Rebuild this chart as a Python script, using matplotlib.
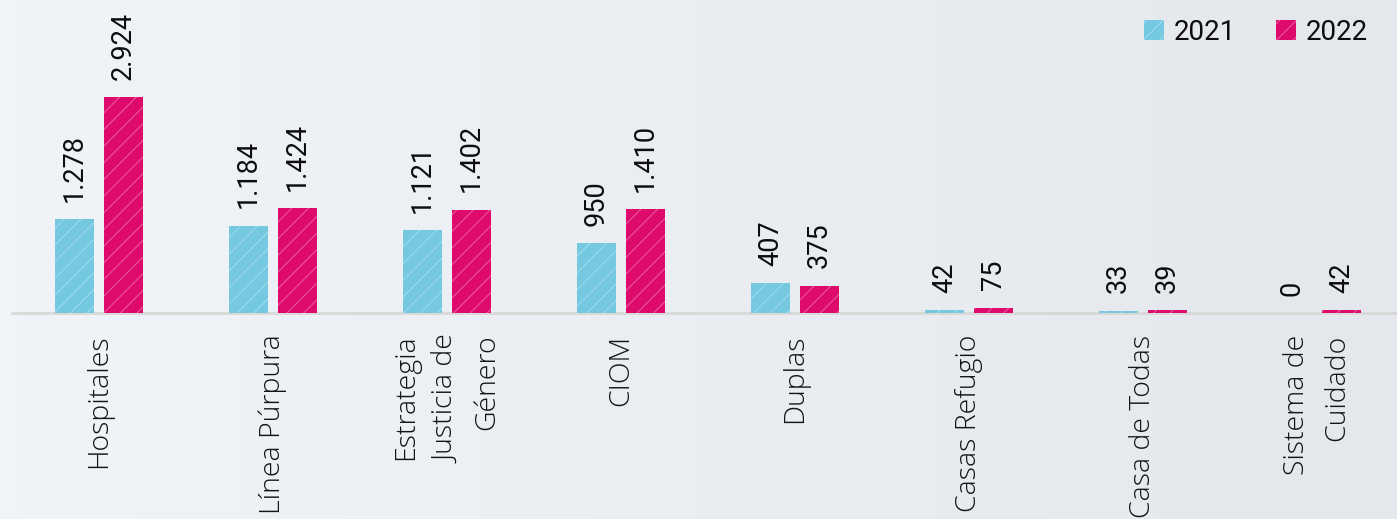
import numpy as np
import matplotlib
matplotlib.use("Agg")
import matplotlib.pyplot as plt

categories = ["Hospitales", "Línea Púrpura", "Estrategia\nJusticia de\nGénero", "CIOM",
              "Duplas", "Casas Refugio", "Casa de Todas", "Sistema de\nCuidado"]
years = ["2021", "2022"]
values_2021 = [1278, 1184, 1121, 950, 407, 42, 33, 0]
values_2022 = [2924, 1424, 1402, 1410, 375, 75, 39, 42]

c2021 = "#74c9e1"
c2022 = "#de0b6c"

plt.rcParams["hatch.linewidth"] = 0.7

fig = plt.figure(figsize=(13.97, 5.19), dpi=100)
fig.patch.set_facecolor("#eceff3")
ax = fig.add_axes([0, 0, 1, 1])
ax.set_facecolor("none")

# subtle background shading
grad = np.linspace(0, 1, 64)[None, :]
ax.imshow(grad, extent=[0, 1, 0, 1], transform=ax.transAxes, aspect="auto",
          cmap=matplotlib.colors.LinearSegmentedColormap.from_list("bg", ["#f0f3f7", "#e4e7eb"]),
          zorder=0)

x = np.arange(len(categories))
w = 0.224
off = 0.141
b1 = ax.bar(x - off, values_2021, w, color=c2021, edgecolor=(1, 1, 1, 0.35), linewidth=0,
            hatch="//", zorder=2, label=years[0])
b2 = ax.bar(x + off, values_2022, w, color=c2022, edgecolor=(1, 1, 1, 0.35), linewidth=0,
            hatch="//", zorder=2, label=years[1])

ax.set_xlim(-0.569, 7.46)
ax.set_ylim(-2785, 4241)
ax.axis("off")

ax.axhline(0, xmin=12 / 1397, xmax=1, color="#d8d8d8", linewidth=2, zorder=1)

def fmt(v):
    return f"{v:,}".replace(",", ".")

for bars, vals in ((b1, values_2021), (b2, values_2022)):
    for rect, v in zip(bars, vals):
        ax.annotate(fmt(v), (rect.get_x() + rect.get_width() / 2, v),
                    xytext=(0, 12.5), textcoords="offset points", rotation=90,
                    ha="center", va="bottom", fontsize=19.5, family="Roboto",
                    fontweight="normal", color="#0d0d0d", zorder=3)

for xi, cat in zip(x, categories):
    ax.text(xi, -290, cat, rotation=90, ha="center", va="top", multialignment="right",
            fontsize=20.5, family="Open Sans", fontweight="light", color="#141414",
            linespacing=1.6, zorder=3)

leg = ax.legend(handles=[b1, b2], labels=years, loc="upper right",
                bbox_to_anchor=(0.997, 1.012), ncol=2, frameon=False,
                handlelength=0.72, handleheight=0.72, columnspacing=1.45,
                handletextpad=0.35, prop={"family": "Roboto", "weight": "normal", "size": 20})
for t in leg.get_texts():
    t.set_color("#0d0d0d")

fig.savefig("out.png", dpi=100, facecolor=fig.get_facecolor())
